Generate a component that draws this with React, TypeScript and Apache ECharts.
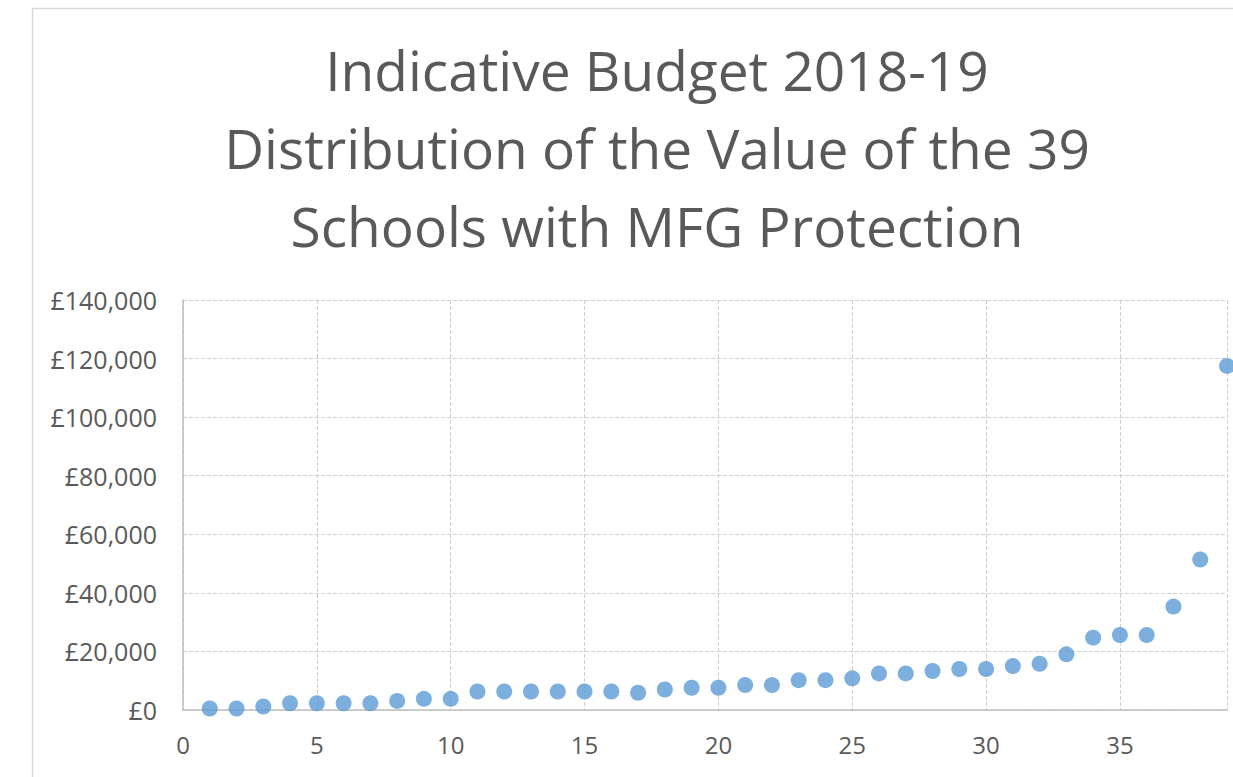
import React, { useEffect, useRef } from "react";
import * as echarts from "echarts";

const titleLines = [
  "Indicative Budget 2018-19",
  "Distribution of the Value of the 39",
  "Schools with MFG Protection",
];

const schoolIndex = [
  1, 2, 3, 4, 5, 6, 7, 8, 9, 10, 11, 12, 13, 14, 15, 16, 17, 18, 19, 20,
  21, 22, 23, 24, 25, 26, 27, 28, 29, 30, 31, 32, 33, 34, 35, 36, 37, 38, 39,
];

const mfgValues = [
  500, 500, 1200, 2300, 2300, 2300, 2300, 3100, 3800, 3800,
  6300, 6300, 6300, 6300, 6300, 6300, 5900, 7000, 7600, 7600,
  8500, 8500, 10200, 10200, 10800, 12500, 12500, 13300, 14000, 14000,
  15000, 15800, 19000, 24700, 25600, 25600, 35300, 51400, 117500,
];

const yTicks = [0, 20000, 40000, 60000, 80000, 100000, 120000, 140000];

export default function App() {
  const ref = useRef<HTMLDivElement>(null);
  useEffect(() => {
    if (!ref.current) return;
    const chart = echarts.init(ref.current, undefined, { renderer: "svg" });
    const fmt = (v: number) => "£" + v.toLocaleString("en-GB");
    chart.setOption({
      animation: false,
      backgroundColor: "#ffffff",
      title: {
        text: titleLines.join("\n"),
        left: 652,
        textAlign: "center",
        top: 25,
        textStyle: {
          fontFamily: "Open Sans",
          fontSize: 55,
          fontWeight: "normal",
          color: "#595959",
          lineHeight: 78,
        },
      },
      graphic: [
        {
          type: "rect",
          shape: { x: 32.5, y: 8.5, width: 1300, height: 900 },
          style: { fill: "none", stroke: "#D9D9D9", lineWidth: 1.5 },
          silent: true,
        },
      ],
      grid: { left: 183, top: 300, right: 6, bottom: 67 },
      xAxis: {
        type: "value",
        min: 0,
        max: 39,
        interval: 5,
        axisLine: { show: true, lineStyle: { color: "#BFBFBF", width: 1.5 } },
        axisTick: { show: false },
        axisLabel: {
          color: "#595959",
          fontFamily: "Open Sans",
          fontSize: 24,
          margin: 22,
          formatter: (v: number) => (v % 5 === 0 ? String(v) : ""),
        },
        splitLine: { show: true, lineStyle: { color: "#D0D0D0", type: "dashed" } },
      },
      yAxis: {
        type: "value",
        min: yTicks[0],
        max: yTicks[yTicks.length - 1],
        interval: 20000,
        axisLine: { show: true, lineStyle: { color: "#BFBFBF", width: 1.5 } },
        axisTick: { show: false },
        axisLabel: {
          color: "#595959",
          fontFamily: "Open Sans",
          fontSize: 25,
          margin: 26,
          formatter: fmt,
        },
        splitLine: { show: true, lineStyle: { color: "#D0D0D0", type: "dashed" } },
      },
      series: [
        {
          type: "scatter",
          data: schoolIndex.map((x, i) => [x, mfgValues[i]]),
          symbolSize: 16,
          itemStyle: { color: "#5B9BD5" },
          clip: false,
        },
      ],
    });
    return () => chart.dispose();
  }, []);
  return (
    <div
      ref={ref}
      style={{ position: "absolute", left: 0, top: 0, width: 1233, height: 777 }}
    />
  );
}
